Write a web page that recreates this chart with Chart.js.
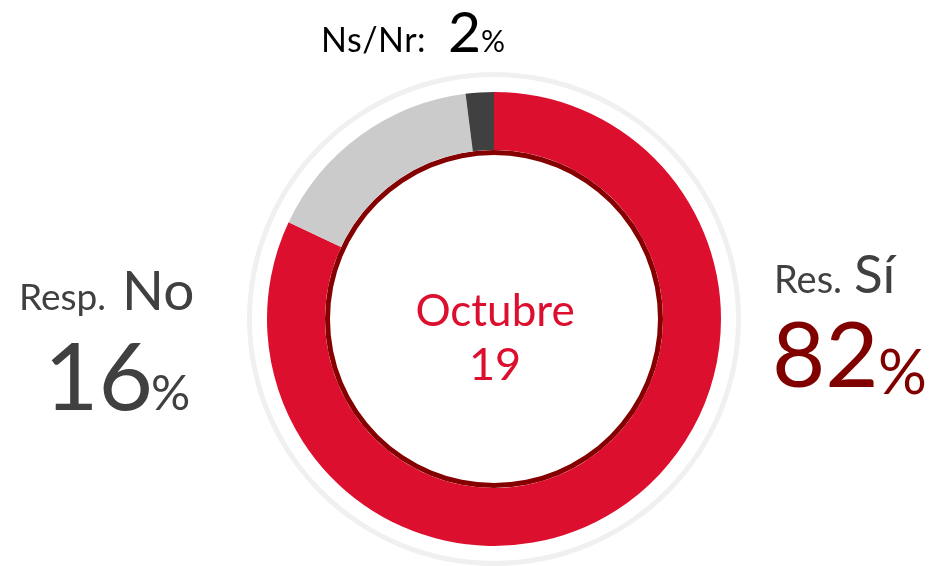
<!DOCTYPE html>
<html>
<head>
<meta charset="utf-8">
<script src="https://cdn.jsdelivr.net/npm/chart.js@4"></script>
<style>
  html, body { margin: 0; padding: 0; background: #fff; }
  canvas { display: block; }
</style>
</head>
<body>
<canvas id="donut" width="936" height="566"></canvas>
<script>
// Data
const answers = ['Res. Sí', 'Resp. No', 'Ns/Nr'];
const shares = [82, 16, 2];
const sliceColors = ['#dc0f2e', '#cbcbcb', '#404040'];
const centerLines = ['Octubre', '19'];

// Labels around the ring (text comes from the arrays above)
const labelPlugin = {
    id: 'labels',
    afterDraw(chart) {
        const ctx = chart.ctx;
        const font = 'Lato, "Open Sans", sans-serif';
        const put = (txt, x, y, size, color, align) => {
            ctx.font = size + 'px ' + font;
            ctx.fillStyle = color;
            ctx.textAlign = align || 'left';
            ctx.textBaseline = 'alphabetic';
            ctx.fillText(txt, x, y);
        };
        ctx.save();

        // Ns/Nr on top
        ctx.letterSpacing = '0.5px';
        put(answers[2] + ':', 321, 52, 34, '#000');
        ctx.letterSpacing = '0px';
        put(String(shares[2]), 448, 52, 57, '#000');
        put('%', 481, 52, 30, '#000');

        // Resp. No on the left
        const [respWord, noWord] = answers[1].split(' ');
        put(respWord, 19, 310, 37, '#404040');
        put(noWord, 122, 310, 55, '#404040');
        put(String(shares[1]), 44, 410, 94, '#404040');
        put('%', 151, 410, 49, '#404040');

        // Res. Sí on the right
        const [resWord, siWord] = answers[0].split(' ');
        put(resWord, 774, 293, 38, '#404040');
        put(siWord, 854, 293, 53, '#404040');
        put(String(shares[0]), 772, 387, 92, '#800000');
        put('%', 878, 394, 61, '#800000');

        // Centre text
        const a = chart.getDatasetMeta(2).data[0];
        put(centerLines[0], a.x + 1, 326, 44, '#dc0f2e', 'center');
        put(centerLines[1], a.x + 1, 380, 45, '#dc0f2e', 'center');

        ctx.restore();
    }
};

new Chart(document.getElementById('donut'), {
    type: 'doughnut',
    data: {
        labels: answers,
        datasets: [
            { data: [100], backgroundColor: '#f0f0f0', weight: 5 },
            { data: [100], backgroundColor: 'rgba(0,0,0,0)', weight: 15 },
            { data: shares, backgroundColor: sliceColors, weight: 58 },
            { data: [100], backgroundColor: '#850000', weight: 5 }
        ]
    },
    options: {
        responsive: false,
        animation: false,
        cutout: '66.4%',
        layout: { padding: { left: 247, right: 195, top: 72, bottom: 0 } },
        elements: { arc: { borderWidth: 0 } },
        events: [],
        plugins: {
            legend: { display: false },
            tooltip: { enabled: false }
        }
    },
    plugins: [labelPlugin]
});
</script>
</body>
</html>
